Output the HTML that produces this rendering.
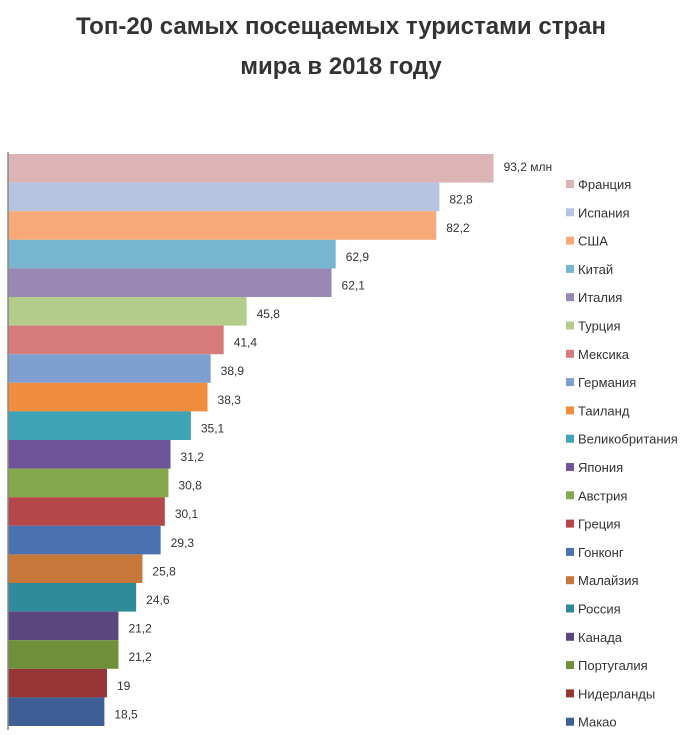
<!DOCTYPE html>
<html><head><meta charset="utf-8"><style>
body{margin:0;background:#fff;width:700px;height:730px;overflow:hidden;font-family:"Liberation Sans",sans-serif}
</style></head><body>
<svg width="700" height="730" xmlns="http://www.w3.org/2000/svg">
<text x="341" y="34" text-anchor="middle" font-size="24" font-weight="bold" fill="#333" textLength="530" lengthAdjust="spacingAndGlyphs">Топ-20 самых посещаемых туристами стран</text>
<text x="341" y="74" text-anchor="middle" font-size="24" font-weight="bold" fill="#333">мира в 2018 году</text>
<g id="bars"></g>
<line x1="8" y1="152" x2="8" y2="730" stroke="#888" stroke-width="1.5"/>
</svg>
<script>
const d=[["Франция",93.2,"#dcb4b6"],["Испания",82.8,"#b5c5e0"],["США",82.2,"#f7a978"],["Китай",62.9,"#78b6cf"],["Италия",62.1,"#9a88b4"],["Турция",45.8,"#b4cc8a"],["Мексика",41.4,"#d67b7c"],["Германия",38.9,"#7f9fd0"],["Таиланд",38.3,"#f08c3e"],["Великобритания",35.1,"#3fa3b8"],["Япония",31.2,"#6e559a"],["Австрия",30.8,"#84a84c"],["Греция",30.1,"#b5464a"],["Гонконг",29.3,"#4a72b0"],["Малайзия",25.8,"#c8773a"],["Россия",24.6,"#2f8a99"],["Канада",21.2,"#5c4680"],["Португалия",21.2,"#6f8f3a"],["Нидерланды",19,"#953535"],["Макао",18.5,"#3d5f96"]];
const g=document.getElementById("bars");let s="";
d.forEach((r,i)=>{const y=154+i*28.6,w=r[1]*5.21;
s+=`<rect x="8" y="${y}" width="${w}" height="28.6" fill="${r[2]}"/>`;
const lab=i==0?"93,2 млн":String(r[1]).replace(".",",");
s+=`<text x="${8+w+10}" y="${y+(i==0?17:21)}" font-size="12" fill="#333">${lab}</text>`;
const ly=189+i*28.3;
s+=`<rect x="566" y="${ly-9}" width="8" height="8" fill="${r[2]}"/><text x="578" y="${ly}" font-size="13" fill="#333">${r[0]}</text>`;});
g.innerHTML=s;
</script>
</body></html>
